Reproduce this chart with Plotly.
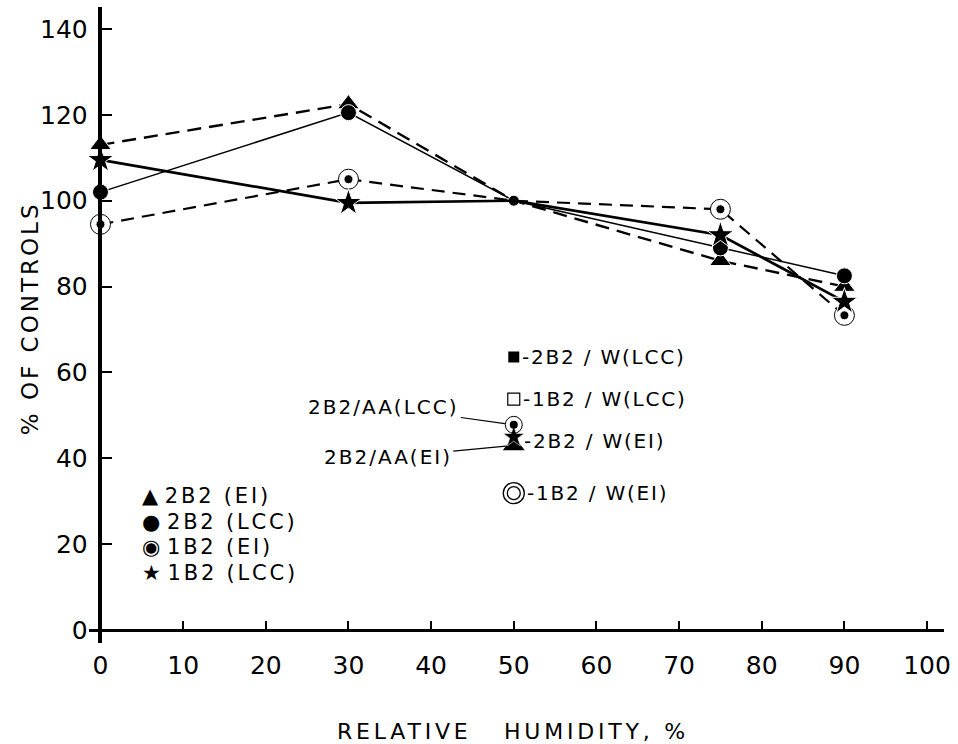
import plotly.graph_objects as go

# ---------------- data ----------------
humidity = [0, 30, 50, 75, 90]
s_2b2_ei = [113, 122.5, 100, 86, 80]      # triangles, dashed
s_2b2_lcc = [102, 120.5, 100, 89, 82.5]   # filled circles, thin solid
s_1b2_ei = [94.5, 105, 100, 98, 73.3]     # circled dots, dashed
s_1b2_lcc = [109.5, 99.5, 100, 92, 76.5]  # stars, thick solid

single_names = ["2B2/W(LCC)", "1B2/W(LCC)", "2B2/AA(EI)", "2B2/W(EI)", "2B2/AA(LCC)", "1B2/W(EI)"]
single_x = [50, 50, 50, 50, 50, 50]
single_y = [63.6, 53.8, 43.0, 45.0, 47.8, 31.9]

legend_labels = ["2B2 (EI)", "2B2 (LCC)", "1B2 (EI)", "1B2 (LCC)"]
x_ticks = list(range(0, 101, 10))
y_ticks = list(range(0, 141, 20))

# ---------------- layout helpers ----------------
W, H = 958, 744
ML, MR, MT, MB = 89, 11, 7, 101
XR = [-1.39, 102.05]
YR = [-3.0, 145.1]
PW, PH = W - ML - MR, H - MT - MB
FONT = "DejaVu Sans"

def px_to_paper(px, py):
    return (px - ML) / PW, 1 - (py - MT) / PH

def spaced(t, ls):
    return '<span style="letter-spacing:%spx">%s</span>' % (ls, t)

# marker sizes per point (the 50 % point is the common control point)
def sizes(base, at50):
    return [at50 if x == 50 else base for x in humidity]

fig = go.Figure()

fig.add_trace(go.Scatter(x=humidity, y=s_2b2_ei, mode="lines+markers",
                         line=dict(color="black", width=2.4, dash="14px,8px"),
                         marker=dict(symbol="triangle-up", size=sizes(19, 0), color="black", opacity=1),
                         name="2B2 (EI)", showlegend=False))
fig.add_trace(go.Scatter(x=humidity, y=s_2b2_lcc, mode="lines+markers",
                         line=dict(color="black", width=1.5),
                         marker=dict(symbol="circle", size=sizes(16, 11), color="black", opacity=1),
                         name="2B2 (LCC)", showlegend=False))
fig.add_trace(go.Scatter(x=humidity, y=s_1b2_ei, mode="lines+markers",
                         line=dict(color="black", width=2.2, dash="13px,8px"),
                         marker=dict(symbol="circle", size=sizes(20, 0), color="white", opacity=1,
                                     line=dict(color="black", width=1)),
                         name="1B2 (EI)", showlegend=False))
fig.add_trace(go.Scatter(x=humidity, y=s_1b2_ei, mode="markers",
                         marker=dict(symbol="circle", size=sizes(9, 0), color="black", opacity=1),
                         hoverinfo="skip", showlegend=False))
fig.add_trace(go.Scatter(x=humidity, y=s_1b2_lcc, mode="lines+markers",
                         line=dict(color="black", width=2.7),
                         marker=dict(symbol="star", size=sizes(20, 0), color="black", opacity=1),
                         name="1B2 (LCC)", showlegend=False))

# single points at 50 % RH
sym = {
    "2B2/W(LCC)": dict(symbol="square", size=11, color="black"),
    "1B2/W(LCC)": dict(symbol="square-open", size=12, color="black", line=dict(width=1.2)),
    "2B2/W(EI)": dict(symbol="star", size=16, color="black", line=dict(color="white", width=0.6)),
    "2B2/AA(EI)": dict(symbol="triangle-up", size=19, color="black"),
}
for nm, xv, yv in zip(single_names, single_x, single_y):
    if nm in sym:
        fig.add_trace(go.Scatter(x=[xv], y=[yv], mode="markers", marker=sym[nm],
                                 name=nm, showlegend=False))
    elif nm == "2B2/AA(LCC)":
        fig.add_trace(go.Scatter(x=[xv], y=[yv], mode="markers",
                                 marker=dict(symbol="circle-open", size=17, color="black",
                                             line=dict(width=1)),
                                 name=nm, showlegend=False))
        fig.add_trace(go.Scatter(x=[xv], y=[yv], mode="markers",
                                 marker=dict(symbol="circle", size=8, color="black"),
                                 showlegend=False, hoverinfo="skip"))
    elif nm == "1B2/W(EI)":
        fig.add_trace(go.Scatter(x=[xv], y=[yv], mode="markers",
                                 marker=dict(symbol="circle-open", size=21, color="black",
                                             line=dict(width=1.3)),
                                 name=nm, showlegend=False))
        fig.add_trace(go.Scatter(x=[xv], y=[yv], mode="markers",
                                 marker=dict(symbol="circle-open", size=13, color="black",
                                             line=dict(width=1.3)),
                                 showlegend=False, hoverinfo="skip"))

annots = []
right_labels = {"2B2/W(LCC)": 6, "1B2/W(LCC)": 7, "2B2/W(EI)": 8, "1B2/W(EI)": 11}
for nm, xv, yv in zip(single_names, single_x, single_y):
    if nm in right_labels:
        yshift = -4 if nm == "2B2/W(EI)" else 0
        annots.append(dict(x=xv, y=yv, xref="x", yref="y",
                           text=spaced("-" + nm.replace("/", " / "), 1.8),
                           showarrow=False, xanchor="left", yanchor="middle",
                           xshift=right_labels[nm], yshift=yshift,
                           font=dict(family=FONT, size=20, color="black")))
arrow_off = {"2B2/AA(LCC)": (-130, -18, 9), "2B2/AA(EI)": (-126, 12, 8)}
for nm, xv, yv in zip(single_names, single_x, single_y):
    if nm in arrow_off:
        ax, ay, so = arrow_off[nm]
        annots.append(dict(x=xv, y=yv, xref="x", yref="y", text=spaced(nm, 2),
                           showarrow=True, arrowhead=0, arrowwidth=1.2, arrowcolor="black",
                           ax=ax, ay=ay, standoff=so,
                           font=dict(family=FONT, size=20, color="black")))

# legend (symbols + text)
legend_syms = ["▲", "●", "◉", "★"]
for i, (s, lab) in enumerate(zip(legend_syms, legend_labels)):
    px, py = px_to_paper(140, 496 + i * 25.5)
    annots.append(dict(x=px, y=py, xref="paper", yref="paper",
                       text=s + " " + spaced(lab, 2.8),
                       showarrow=False, xanchor="left", yanchor="middle",
                       font=dict(family=FONT, size=21, color="black")))

# axis titles
tx, ty = px_to_paper(30, 318)
annots.append(dict(x=tx, y=ty, xref="paper", yref="paper", text=spaced("% OF CONTROLS", 3),
                   textangle=-90, showarrow=False, xanchor="center", yanchor="middle",
                   font=dict(family=FONT, size=23, color="black")))
tx, ty = px_to_paper(514, 731)
annots.append(dict(x=tx, y=ty, xref="paper", yref="paper",
                   text=spaced("RELATIVE   HUMIDITY, %", 3.8),
                   showarrow=False, xanchor="center", yanchor="middle",
                   font=dict(family=FONT, size=22, color="black")))

ypos = (0 - XR[0]) / (XR[1] - XR[0])
xpos = (0 - YR[0]) / (YR[1] - YR[0])

fig.update_layout(
    width=W, height=H,
    margin=dict(l=ML, r=MR, t=MT, b=MB),
    paper_bgcolor="white", plot_bgcolor="white",
    showlegend=False,
    annotations=annots,
    xaxis=dict(range=XR, tickvals=x_ticks, ticktext=[str(v) for v in x_ticks],
               anchor="free", position=xpos, showline=True, linecolor="black", linewidth=3,
               ticks="inside", ticklen=8, tickwidth=2, tickcolor="black",
               ticklabelstandoff=12,
               showgrid=False, zeroline=False,
               tickfont=dict(family=FONT, size=25, color="black")),
    yaxis=dict(range=YR, tickvals=y_ticks, ticktext=[str(v) for v in y_ticks],
               anchor="free", position=ypos, showline=True, linecolor="black", linewidth=3.5,
               ticks="inside", ticklen=10, tickwidth=2, tickcolor="black",
               ticklabelstandoff=6,
               showgrid=False, zeroline=False,
               tickfont=dict(family=FONT, size=25, color="black")),
)

fig.write_html("out.html", config={"displayModeBar": False},
               post_script="document.body.style.margin='0px';")
